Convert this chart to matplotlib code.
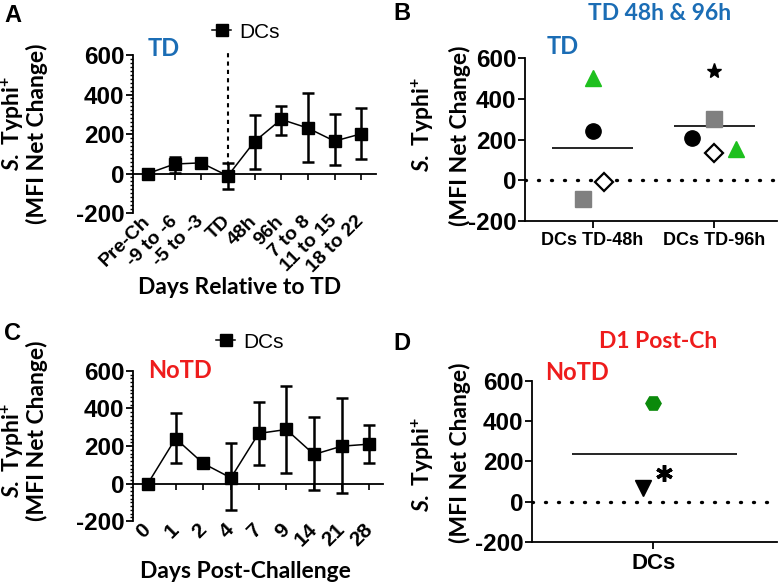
import matplotlib
matplotlib.use("Agg")
import matplotlib.pyplot as plt
from matplotlib.lines import Line2D
from matplotlib.ticker import MultipleLocator
import numpy as np

plt.rcParams['font.family'] = ['Liberation Sans', 'DejaVu Sans']
plt.rcParams['mathtext.fontset'] = 'custom'
plt.rcParams['mathtext.rm'] = 'Lato:bold'
plt.rcParams['mathtext.it'] = 'Lato:italic:bold'
plt.rcParams['mathtext.bf'] = 'Lato:bold'

# panel A - TD volunteers, days relative to TD
a_labels = ["Pre-Ch", "-9 to -6", "-5 to -3", "TD", "48h", "96h", "7 to 8", "11 to 15", "18 to 22"]
a_mean = [0, 48, 54, -12, 162, 274, 230, 164, 201]
a_low = [0, 5, 35, -76, 24, 197, 57, 42, 71]
a_high = [0, 85, 75, 54, 296, 343, 409, 301, 334]

# panel C - NoTD volunteers, days post challenge
c_labels = ["0", "1", "2", "4", "7", "9", "14", "21", "28"]
c_mean = [0, 240, 107, 30, 267, 288, 155, 199, 210]
c_low = [0, 107, 107, -142, 98, 57, -36, -53, 107]
c_high = [0, 374, 107, 214, 433, 522, 352, 454, 312]

# panel B - individual volunteers at TD 48h / 96h
b_groups = ["DCs TD-48h", "DCs TD-96h"]
b_circle = [241, 209]
b_triangle = [502, 152]
b_square = [-93, 299]
b_diamond = [-8, 132]
b_star = [None, 538]

# panel D - individual volunteers at D1 post challenge
d_groups = ["DCs"]
d_hexagon = [493]
d_tri_down = [69]
d_asterisk = [143]

BLUE = "#1b6db5"
RED = "#ee1c1c"
LABEL_FONT = ['Lato', 'DejaVu Sans']

fig = plt.figure(figsize=(7.82, 5.87), dpi=100)
axA = fig.add_axes([0.170, 0.6371, 0.311, 0.2692])
axB = fig.add_axes([0.671, 0.6235, 0.322, 0.2777])
axC = fig.add_axes([0.170, 0.1124, 0.320, 0.2556])
axD = fig.add_axes([0.680, 0.0767, 0.314, 0.2742])


def style_y(ax, minor):
    ax.set_ylim(-200, 600)
    ax.set_yticks([-200, 0, 200, 400, 600], labels=["-200", "0", "200", "400", "600"],
                  fontweight='bold', fontsize=17.5)
    if minor:
        ax.yaxis.set_minor_locator(MultipleLocator(20))
    ax.tick_params(axis='y', which='major', length=5, width=1.3, pad=1)
    ax.tick_params(axis='y', which='minor', length=2.5, width=1)
    ax.spines['top'].set_visible(False)
    ax.spines['right'].set_visible(False)
    ax.spines['left'].set_linewidth(1.3)


def ylabel(xa, ya, xb, yb):
    fig.text(xa / 782, 1 - ya / 587, r"$\mathit{S.}$ Typhi$^{+}$", rotation=90,
             ha='center', va='center', fontsize=16.5, family=LABEL_FONT, fontweight='bold')
    fig.text(xb / 782, 1 - yb / 587, "(MFI Net Change)", rotation=90,
             ha='center', va='center', fontsize=16.5, family=LABEL_FONT, fontweight='bold')


def kinetics(ax, labels, mean, low, high, xlim, size):
    x = np.arange(len(labels))
    mean = np.array(mean)
    yerr = [mean - np.array(low), np.array(high) - mean]
    style_y(ax, True)
    ax.set_xlim(*xlim)
    ax.spines['bottom'].set_visible(False)
    ax.set_xticks(x, labels=labels, rotation=45, ha='right', va='center',
                  rotation_mode='anchor', fontweight='bold', fontsize=size)
    ax.tick_params(axis='x', length=0, pad=4)
    # x axis drawn through zero
    sec = ax.secondary_xaxis(0.25)
    sec.set_xticks(x, labels=[])
    sec.tick_params(axis='x', length=4, width=1.2)
    sec.spines['bottom'].set_linewidth(1.3)
    ax.errorbar(x, mean, yerr=yerr, fmt='-s', color='black', ms=8.5, lw=1.1,
                elinewidth=1.8, capsize=4, capthick=1.8, zorder=3)
    return x


# ---- A ----
xa = kinetics(axA, a_labels, a_mean, a_low, a_high, (-0.56, 8.56), 14)
axA.vlines(xa[3], 0, 620, colors='black', linestyles=(0, (2, 2)), lw=1.5, clip_on=False)

# ---- C ----
kinetics(axC, c_labels, c_mean, c_low, c_high, (-0.54, 8.5), 15)

# legends
handle = Line2D([], [], color='black', marker='s', ms=9, lw=1.1)
for lx, ly in [(246, 32), (250, 342)]:
    fig.legend([handle], ["DCs"], loc='center', bbox_to_anchor=(lx / 782, 1 - ly / 587),
               frameon=False, fontsize=15, handlelength=0.9, handletextpad=0.4,
               borderpad=0)

# ---- B ----
style_y(axB, False)
xb = np.arange(len(b_groups))
axB.set_xlim(-0.557, 1.51)
axB.set_xticks(xb, labels=b_groups, fontweight='bold', fontsize=13)
axB.tick_params(axis='x', length=5, width=1.3, pad=3)
axB.spines['bottom'].set_linewidth(1.3)
axB.axhline(0, color='black', lw=2.4, linestyle=(0, (0.3, 3.6)), dash_capstyle='round')
for i in xb:
    vals = [v[i] for v in (b_circle, b_triangle, b_square, b_diamond, b_star) if v[i] is not None]
    axB.hlines(np.mean(vals), i - 0.335, i + 0.335, color='black', lw=1.2)
jit_sq = [-0.08, 0.0]
jit_ci = [0.0, -0.18]
jit_tr = [0.0, 0.18]
jit_di = [0.095, 0.0]
axB.plot(xb + jit_ci, b_circle, 'o', color='black', ms=11, ls='none', zorder=4)
axB.plot(xb + jit_tr, b_triangle, '^', color='#1ec01e', ms=11, ls='none', zorder=4)
axB.plot(xb + jit_sq, b_square, 's', color='#808080', ms=11, ls='none', zorder=4)
axB.plot(xb + jit_di, b_diamond, 'D', mfc='white', mec='black', mew=1.6, ms=9.5, ls='none', zorder=5)
axB.plot(xb[1:], b_star[1:], '*', color='black', ms=11, ls='none', zorder=4)

# ---- D ----
style_y(axD, False)
xd = np.arange(len(d_groups))
axD.set_xlim(-0.99, 1.01)
axD.set_xticks(xd, labels=d_groups, fontweight='bold', fontsize=16)
axD.tick_params(axis='x', length=5, width=1.3, pad=3)
axD.spines['bottom'].set_linewidth(1.3)
axD.axhline(0, color='black', lw=2.4, linestyle=(0, (0.3, 3.6)), dash_capstyle='round')
axD.hlines(np.mean(d_hexagon + d_tri_down + d_asterisk), -0.66, 0.68, color='black', lw=1.2)
axD.plot(xd, d_hexagon, 'H', color='#0b8a0b', ms=11, ls='none')
axD.plot(xd - 0.08, d_tri_down, 'v', color='black', ms=11, ls='none')
axD.plot(xd + 0.09, d_asterisk, marker=(6, 2, 0), color='black', mew=2.5, ms=12, ls='none')

# y labels
ylabel(13, 124, 37, 134)
ylabel(423, 125, 460, 136)
ylabel(13, 451, 37, 431)
ylabel(423, 465, 460, 453)

# x labels of A and C
fig.text(240 / 782, 1 - 287 / 587, "Days Relative to TD", ha='center', va='center',
         family=LABEL_FONT, fontweight='bold', fontsize=16.5)
fig.text(245 / 782, 1 - 572 / 587, "Days Post-Challenge", ha='center', va='center',
         family=LABEL_FONT, fontweight='bold', fontsize=16.5)

# panel letters and group titles
for letter, px, py in [("A", 4, 15), ("B", 393, 14), ("C", 4, 333), ("D", 393, 343)]:
    fig.text(px / 782, 1 - py / 587, letter, ha='left', va='center', fontsize=17, fontweight='bold')
fig.text(148 / 782, 1 - 48 / 587, "TD", color=BLUE, ha='left', va='center',
         family=LABEL_FONT, fontweight='bold', fontsize=17)
fig.text(547 / 782, 1 - 47 / 587, "TD", color=BLUE, ha='left', va='center',
         family=LABEL_FONT, fontweight='bold', fontsize=17)
fig.text(660 / 782, 1 - 14 / 587, "TD 48h & 96h", color=BLUE, ha='center', va='center',
         family=LABEL_FONT, fontweight='bold', fontsize=16.5)
fig.text(148 / 782, 1 - 371 / 587, "NoTD", color=RED, ha='left', va='center',
         family=LABEL_FONT, fontweight='bold', fontsize=17)
fig.text(545 / 782, 1 - 372 / 587, "NoTD", color=RED, ha='left', va='center',
         family=LABEL_FONT, fontweight='bold', fontsize=17)
fig.text(658 / 782, 1 - 342 / 587, "D1 Post-Ch", color=RED, ha='center', va='center',
         family=LABEL_FONT, fontweight='bold', fontsize=16.5)

fig.savefig("out.png", dpi=100)
